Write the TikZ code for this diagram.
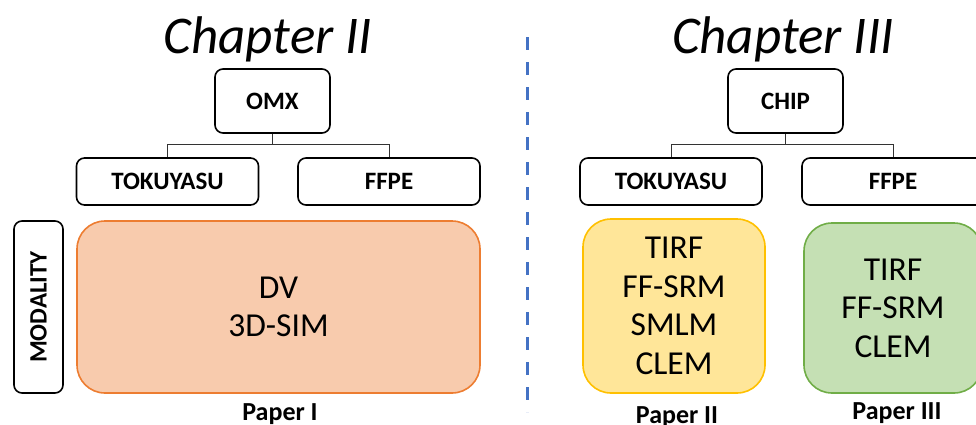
\documentclass[tikz,border=0pt]{standalone}
\usepackage{fontspec}
\setmainfont{Carlito}
\usetikzlibrary{positioning,calc}
\definecolor{Peach}{HTML}{F8CBAD}
\definecolor{PeachLine}{HTML}{ED7D31}
\definecolor{Gold}{HTML}{FFE699}
\definecolor{GoldLine}{HTML}{FFC000}
\definecolor{Sage}{HTML}{C5E0B4}
\definecolor{SageLine}{HTML}{70AD47}
\definecolor{Split}{HTML}{4472C4}
\tikzset{
 title/.style={font=\itshape\fontsize{53}{60}\selectfont,anchor=base,inner sep=0pt},
 tag/.style={draw=black,line width=1.6pt,rounded corners=8pt,font=\bfseries\fontsize{25}{30}\selectfont,inner sep=0pt,minimum height=47pt},
 root/.style={tag,minimum width=115pt,minimum height=64pt},
 kind/.style={tag,minimum width=182pt},
 modes/.style={line width=1.6pt,rounded corners=28pt,align=center,inner sep=0pt,font=\fontsize{33.5}{38.5}\selectfont},
 paper/.style={font=\bfseries\fontsize{26}{30}\selectfont,anchor=base,inner sep=0pt},
 link/.style={draw=black!80,line width=0.9pt},
 split/.style={draw=Split,line width=3pt,dash pattern=on 13pt off 12pt}
}
\begin{document}
\begin{tikzpicture}[x=1pt,y=-1pt]
\useasboundingbox (0,0) rectangle (976,424);
\clip (0,0) rectangle (976,424);
% left half: OMX
\node[title] (ch2) at (268,53) {Chapter II};
\node[root] (omx) at (272.5,101) {OMX};
\node[kind] (tok2) at (167.5,181.5) {TOKUYASU};
\node[kind] (ffpe2) at (389,181.5) {FFPE};
\draw[link] (omx.south) -- ++(0,11) -| (tok2.north);
\draw[link] (omx.south) ++(0,11) -| (ffpe2.north);
\node[tag,minimum width=49pt,minimum height=172pt] (mod) at (38.5,307) {\rotatebox{90}{MODALITY}};
\node[modes,draw=PeachLine,fill=Peach,minimum width=403pt,minimum height=172pt] (dv) at (278.5,307) {DV\\3D-SIM};
\node[paper] (p1) at (280,420) {Paper I};
% divider
\coordinate (top) at (527,37);
\coordinate (bot) at (527,412);
\draw[split] (top) -- (bot);
% right half: CHIP
\node[title] (ch3) at (783,53) {Chapter III};
\node[root] (chip) at (785.5,101) {CHIP};
\node[kind] (tok3) at (671,181.5) {TOKUYASU};
\node[kind] (ffpe3) at (893,181.5) {FFPE};
\draw[link] (chip.south) -- ++(0,11) -| (tok3.north);
\draw[link] (chip.south) ++(0,11) -| (ffpe3.north);
\node[modes,draw=GoldLine,fill=Gold,minimum width=182pt,minimum height=174pt] (tirf) at (674,306) {TIRF\\FF-SRM\\SMLM\\CLEM};
\node[modes,draw=SageLine,fill=Sage,minimum width=178pt,minimum height=170pt] (clem) at (893,308) {TIRF\\FF-SRM\\CLEM};
\node[paper] (p2) at (677,423) {Paper II};
\node[paper] (p3) at (897,419) {Paper III};
\end{tikzpicture}
\end{document}
